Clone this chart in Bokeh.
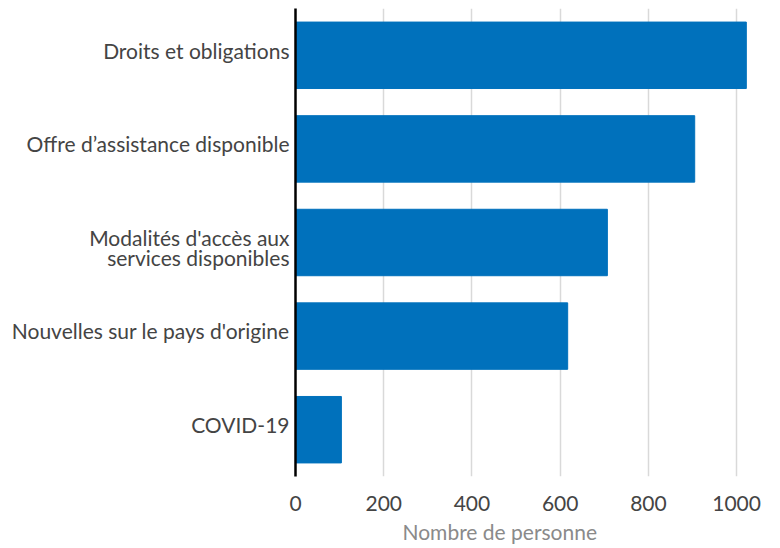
from bokeh.plotting import figure
from bokeh.embed import file_html
from bokeh.resources import INLINE
from bokeh.models import FixedTicker, Title

categories = ["Droits et obligations", "Offre d’assistance disponible",
              "Modalités d'accès aux\nservices disponibles",
              "Nouvelles sur le pays d'origine", "COVID-19"]
values = [1022, 905, 707, 617, 104]
x_ticks = [0, 200, 400, 600, 800, 1000]
x_title = "Nombre de personne"

n = len(categories)
ypos = [n - 1 - i for i in range(n)]
label_lift = 0.055   # label baseline sits slightly above bar centre
line_step = 0.22     # spacing between wrapped label lines, in category units

p = figure(y_range=(-0.5, n - 0.5), x_range=(0, 1070), output_backend="svg",
           toolbar_location=None, frame_width=472, frame_height=468,
           min_border_left=295, min_border_top=8, min_border_right=5,
           min_border_bottom=6)
p.hbar(y=ypos, right=values, left=0, height=0.71, color="#0071BC")

p.outline_line_color = None
p.background_fill_color = "white"
p.border_fill_color = "white"
p.ygrid.grid_line_color = None
p.xgrid.grid_line_color = "#d9d9d9"
p.xgrid.grid_line_width = 1.5
p.xaxis.ticker = FixedTicker(ticks=x_ticks)
p.xaxis.axis_line_color = None
p.xaxis.major_tick_line_color = None
p.xaxis.minor_tick_line_color = None
p.xaxis.major_label_text_font = "Lato"
p.xaxis.major_label_text_font_size = "21px"
p.xaxis.major_label_text_color = "#444444"
p.xaxis.major_label_standoff = 13

p.add_layout(Title(text=x_title, align="left", offset=107, standoff=7,
                   text_font="Lato", text_font_style="normal",
                   text_font_size="21px", text_color="#8a8a8a"), "below")

ticks = []
overrides = {}
for cat, y in zip(categories, ypos):
    for j, line in enumerate(cat.split("\n")):
        t = round(y + label_lift - j * line_step, 4)
        ticks.append(t)
        overrides[t] = line

p.yaxis.ticker = FixedTicker(ticks=ticks, minor_ticks=[])
p.yaxis.major_label_overrides = overrides
p.yaxis.axis_line_color = "black"
p.yaxis.axis_line_width = 2.5
p.yaxis.major_tick_line_color = None
p.yaxis.minor_tick_line_color = None
p.yaxis.major_label_text_font = "Lato"
p.yaxis.major_label_text_font_size = "21px"
p.yaxis.major_label_text_color = "#444444"
p.yaxis.major_label_standoff = 0

open("out.html", "w").write(file_html(p, INLINE))
